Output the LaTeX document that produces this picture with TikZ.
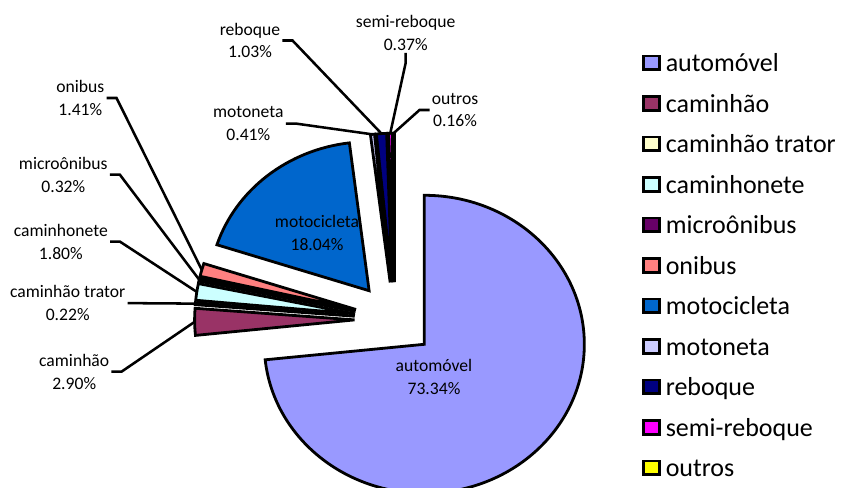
\documentclass[tikz,border=0pt]{standalone}
\usepackage{fontspec}
\setmainfont{Carlito}
\usepackage{tikz}
\usetikzlibrary{calc,positioning}
\definecolor{cauto}{HTML}{9999FF}
\definecolor{ccam}{HTML}{993366}
\definecolor{ctrat}{HTML}{FFFFCC}
\definecolor{ccamh}{HTML}{CCFFFF}
\definecolor{cmicro}{HTML}{660066}
\definecolor{conib}{HTML}{FF8080}
\definecolor{cmoto}{HTML}{0066CC}
\definecolor{cmotn}{HTML}{CCCCFF}
\definecolor{creb}{HTML}{000080}
\definecolor{csemi}{HTML}{FF00FF}
\definecolor{coutr}{HTML}{FFFF00}

\newcommand{\pieslice}[4]{%
  \pgfmathsetmacro{\slA}{-90+3.6*#2}%
  \pgfmathsetmacro{\slB}{-90+3.6*#3}%
  \pgfmathsetmacro{\slM}{(\slA+\slB)/2}%
  \coordinate (#1) at ($(O)+(\slM:40 and 37.2)$);
  \draw[slice,fill=#4] (#1) -- ++(\slA:160 and 149) arc[start angle=\slA,end angle=\slB,x radius=160,y radius=149] -- cycle;
  \coordinate (#1-r) at ($(#1)+(\slM:160 and 149)$);
}

\begin{document}
\begin{tikzpicture}[x=0.75pt,y=-0.75pt,
  slice/.style={draw=black,line width=2.1pt},
  lbl/.style={align=center,inner sep=1.5pt,font=\fontsize{13.2}{17}\selectfont},
  leader/.style={draw=black,line width=1.9pt},
  key/.style={draw=black,line width=2pt,minimum width=12pt,minimum height=10.4pt,inner sep=0pt},
  keytext/.style={font=\fontsize{19.5}{20}\selectfont,inner sep=0pt,text height=13.4pt,text depth=0pt}
]
\useasboundingbox (0,0) rectangle (842,488);
\clip (0,0) rectangle (842,488);
\fill[white] (0,0) rectangle (842,488);
\coordinate (O) at (394.6,319.4);

\pieslice{auto}{0}{73.34}{cauto}
\pieslice{cam}{73.34}{76.24}{ccam}
\pieslice{trat}{76.24}{76.46}{ctrat}
\pieslice{camh}{76.46}{78.26}{ccamh}
\pieslice{micro}{78.26}{78.58}{cmicro}
\pieslice{onib}{78.58}{79.99}{conib}
\pieslice{moto}{79.99}{98.03}{cmoto}
\pieslice{motn}{98.03}{98.44}{cmotn}
\pieslice{reb}{98.44}{99.47}{creb}
\pieslice{semi}{99.47}{99.84}{csemi}
\pieslice{outr}{99.84}{100}{coutr}

\node[lbl] (auto-l) at (434,377) {automóvel\\73.34\%};
\node[lbl] (moto-l) at (317,233) {motocicleta\\18.04\%};
\node[lbl] (cam-l) at (74.2,371.7) {caminhão\\2.90\%};
\node[lbl] (trat-l) at (67.7,303.2) {caminhão trator\\0.22\%};
\node[lbl] (camh-l) at (60.8,241.7) {caminhonete\\1.80\%};
\node[lbl] (micro-l) at (63.3,174.7) {microônibus\\0.32\%};
\node[lbl] (onib-l) at (80.3,98) {onibus\\1.41\%};
\node[lbl] (motn-l) at (248.3,123.7) {motoneta\\0.41\%};
\node[lbl] (reb-l) at (250,40.5) {reboque\\1.03\%};
\node[lbl] (semi-l) at (405.7,33) {semi-reboque\\0.37\%};
\node[lbl] (outr-l) at (455,110) {outros\\0.16\%};

\draw[leader] (cam-l.east) -- ++(10,0) -- (cam-r);
\draw[leader] (trat-l.east) -- ++(11,0) -- (trat-r);
\draw[leader] (camh-l.east) -- ++(10,0) -- (camh-r);
\draw[leader] (micro-l.east) -- ++(10,0) -- (micro-r);
\draw[leader] (onib-l.east) -- ++(10,0) -- (onib-r);
\draw[leader] (motn-l.east) -- ++(11,0) -- (motn-r);
\draw[leader] (reb-l.east) -- ++(10,0) -- (reb-r);
\draw[leader] (semi-l.south) -- ++(0,10) -- (semi-r);
\draw[leader] (outr-l.west) -- ++(-10,0) -- (outr-r);

\foreach \lab/\col [count=\i from 0] in {automóvel/cauto,caminhão/ccam,caminhão trator/ctrat,caminhonete/ccamh,microônibus/cmicro,onibus/conib,motocicleta/cmoto,motoneta/cmotn,reboque/creb,semi-reboque/csemi,outros/coutr}{
  \node[key,fill=\col] (key\i) at (651.5,62.8+40.5*\i) {};
  \node[keytext,right=3.5pt of key\i] (keytext\i) {\lab};
}
\end{tikzpicture}
\end{document}
